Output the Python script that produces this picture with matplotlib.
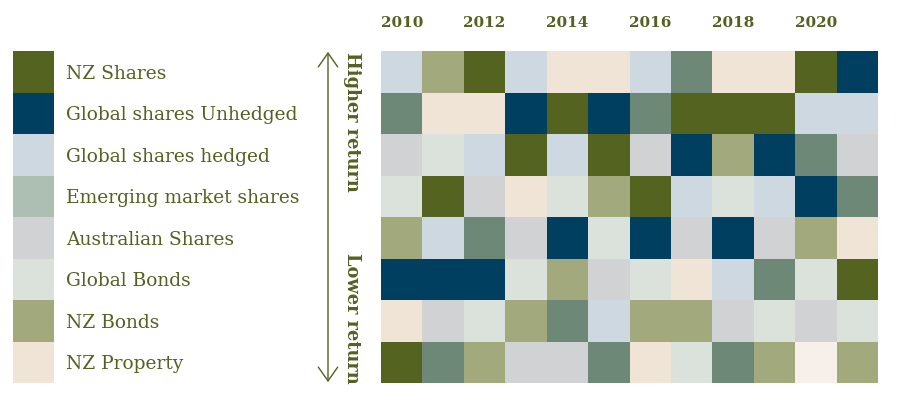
import matplotlib
matplotlib.use("Agg")
import matplotlib.pyplot as plt
import numpy as np
from matplotlib.patches import Rectangle
from matplotlib.colors import ListedColormap, BoundaryNorm

# ---- data ----
assets = ["NZ Shares", "Global shares Unhedged", "Global shares hedged",
          "Emerging market shares", "Australian Shares", "Global Bonds",
          "NZ Bonds", "NZ Property"]
codes = ["S", "U", "H", "E", "A", "G", "B", "P"]
legend_colors = ["#556321", "#003f5f", "#cdd8e0", "#adbfb3",
                 "#d1d2d4", "#dbe2db", "#a1a97d", "#efe4d6"]
grid_colors = {"S": "#556321", "U": "#003f5f", "H": "#cdd8e0", "E": "#6d8877",
               "A": "#d1d2d4", "G": "#dbe2db", "B": "#a1a97d", "P": "#efe4d6",
               "Pl": "#f7f0ea"}
years = list(range(2010, 2022))
year_labels = ["2010", "2012", "2014", "2016", "2018", "2020"]
# ranking, top row = highest return; columns = years 2010..2021
ranking = [
    ["H", "B", "S", "H", "P", "P", "H", "E", "P", "P", "S", "U"],
    ["E", "P", "P", "U", "S", "U", "E", "S", "S", "S", "H", "H"],
    ["A", "G", "H", "S", "H", "S", "A", "U", "B", "U", "E", "A"],
    ["G", "S", "A", "P", "G", "B", "S", "H", "G", "H", "U", "E"],
    ["B", "H", "E", "A", "U", "G", "U", "A", "U", "A", "B", "P"],
    ["U", "U", "U", "G", "B", "A", "G", "P", "H", "E", "G", "S"],
    ["P", "A", "G", "B", "E", "H", "B", "B", "A", "G", "A", "G"],
    ["S", "E", "B", "A", "A", "E", "P", "G", "E", "B", "Pl", "B"],
]

olive = "#556121"
W, H = 901, 406
fig = plt.figure(figsize=(W / 100, H / 100), dpi=100)

top_px, bot_px = 52, 384
gx0, gx1 = 381, 878
nrows, ncols = len(ranking), len(years)

# ---- grid ----
ax = fig.add_axes([gx0 / W, (H - bot_px) / H, (gx1 - gx0) / W, (bot_px - top_px) / H])
keys = list(grid_colors.keys())
cmap = ListedColormap([grid_colors[k] for k in keys])
norm = BoundaryNorm(np.arange(len(keys) + 1) - 0.5, len(keys))
idx = np.array([[keys.index(c) for c in row] for row in ranking])
ax.pcolormesh(np.arange(ncols + 1), np.arange(nrows + 1), idx, cmap=cmap,
              norm=norm, antialiased=False, edgecolors="none")
ax.set_xlim(0, ncols)
ax.set_ylim(nrows, 0)
ax.xaxis.tick_top()
tick_pos = [years.index(int(y)) + 0.5 for y in year_labels]
ax.set_xticks(tick_pos)
ax.set_xticklabels(year_labels, fontfamily="DejaVu Serif", fontweight="bold",
                   fontsize=11, color=olive)
ax.tick_params(axis="x", length=0, pad=16)
ax.set_yticks([])
for s in ax.spines.values():
    s.set_visible(False)

# ---- legend & arrow ----
lx0 = 13
lax = fig.add_axes([lx0 / W, (H - bot_px) / H, (380 - lx0) / W, (bot_px - top_px) / H])
lax.set_xlim(0, 380 - lx0)
lax.set_ylim(nrows, 0)
lax.axis("off")
for i, (name, col) in enumerate(zip(assets, legend_colors)):
    lax.add_patch(Rectangle((0, i), 41, 1, facecolor=col, edgecolor="none"))
    lax.text(53, i + 0.52, name, fontfamily="DejaVu Serif", fontsize=13.4,
             color=olive, va="center", ha="left")

ax_x = 328 - lx0
lax.annotate("", xy=(ax_x, 0.02), xytext=(ax_x, nrows - 0.02),
             arrowprops=dict(arrowstyle="<->,head_length=0.5,head_width=0.35",
                             color=olive, lw=1.0, shrinkA=0, shrinkB=0,
                             mutation_scale=20))
lax.text(352 - lx0, 0.0, "Higher return", rotation=-90, fontfamily="DejaVu Serif",
         fontweight="bold", fontsize=12.8, color=olive, ha="center", va="top")
lax.text(352 - lx0, nrows, "Lower return", rotation=-90, fontfamily="DejaVu Serif",
         fontweight="bold", fontsize=12.8, color=olive, ha="center", va="bottom")

fig.savefig("out.png", dpi=100)
